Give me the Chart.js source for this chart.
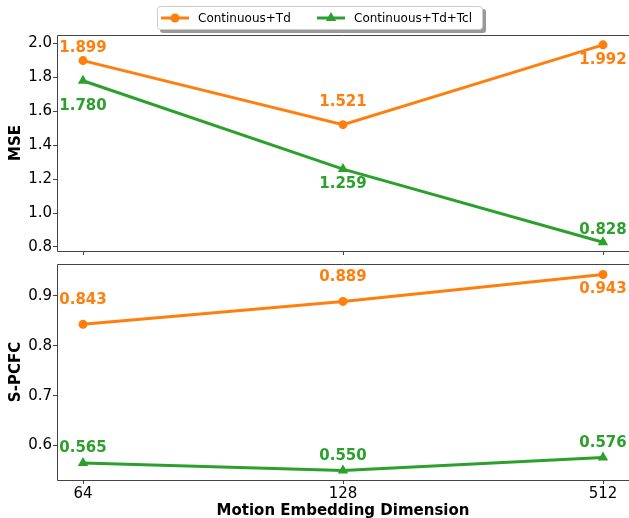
<!DOCTYPE html>
<html>
<head>
<meta charset="utf-8">
<script src="https://cdn.jsdelivr.net/npm/chart.js@4.4.0/dist/chart.umd.min.js"></script>
<style>
  html, body { margin: 0; padding: 0; background: #fff; overflow: hidden; }
  #wrap { position: relative; width: 629px; height: 518px; overflow: hidden; }
  #wrap canvas { position: absolute; left: 0; }
</style>
</head>
<body>
<div id="wrap">
  <canvas id="mseChart" width="629" height="258" style="top:0"></canvas>
  <canvas id="pcfcChart" width="629" height="262" style="top:258px"></canvas>
</div>
<script>
const dims = ['64', '128', '512'];
const seriesNames = ['Continuous+Td', 'Continuous+Td+Tcl'];
const mseTd = [1.899, 1.521, 1.992];
const mseTdTcl = [1.780, 1.259, 0.828];
const pcfcTd = [0.843, 0.889, 0.943];
const pcfcTdTcl = [0.565, 0.550, 0.576];

const ORANGE = '#ff7f0e';
const GREEN = '#2ca02c';
const SPINE = '#444';
const FONT = "'DejaVu Sans', sans-serif";

const pts = arr => arr.map((v, i) => ({ x: i, y: v }));

function makeSets(a, b) {
  return [
    { label: seriesNames[0], data: pts(a), borderColor: ORANGE, backgroundColor: ORANGE,
      borderWidth: 3, pointStyle: 'circle', pointRadius: 4.5, pointBorderWidth: 0, tension: 0, clip: false },
    { label: seriesNames[1], data: pts(b), borderColor: GREEN, backgroundColor: GREEN,
      borderWidth: 3, pointStyle: 'triangle', pointRadius: 6, pointBorderWidth: 0, tension: 0, clip: false }
  ];
}

// value labels next to every point
const valueLabels = {
  id: 'valueLabels',
  afterDatasetsDraw(chart, args, opts) {
    const ctx = chart.ctx;
    ctx.save();
    ctx.font = 'bold 15px ' + FONT;
    ctx.textAlign = 'center';
    ctx.textBaseline = 'middle';
    chart.data.datasets.forEach((ds, di) => {
      const meta = chart.getDatasetMeta(di);
      ctx.fillStyle = ds.borderColor;
      meta.data.forEach((p, i) => {
        ctx.fillText(ds.data[i].y.toFixed(3), p.x, p.y + opts.offsets[di][i]);
      });
    });
    ctx.restore();
  }
};

// left / top / bottom spines (right one falls off the picture)
const frame = {
  id: 'frame',
  afterDraw(chart) {
    const { ctx, chartArea: a, width } = chart;
    const l = Math.round(a.left) + 0.5, t = Math.round(a.top) + 0.5, b = Math.round(a.bottom) + 0.5;
    ctx.save();
    ctx.strokeStyle = SPINE;
    ctx.lineWidth = 1;
    ctx.beginPath();
    ctx.moveTo(width, t);
    ctx.lineTo(l, t);
    ctx.lineTo(l, b);
    ctx.lineTo(width, b);
    ctx.stroke();
    ctx.restore();
  }
};

// matplotlib style legend above the top panel
const topLegend = {
  id: 'topLegend',
  afterDraw(chart) {
    const ctx = chart.ctx;
    const x = 157, y = 6, w = 326, h = 24;
    ctx.save();
    ctx.fillStyle = '#999';
    ctx.beginPath();
    ctx.roundRect(x + 3, y + 3, w, h, 3);
    ctx.fill();
    ctx.fillStyle = '#fff';
    ctx.strokeStyle = '#ccc';
    ctx.lineWidth = 1;
    ctx.beginPath();
    ctx.roundRect(x + 0.5, y + 0.5, w - 1, h - 1, 3);
    ctx.fill();
    ctx.stroke();
    const starts = [161, 317];
    ctx.font = '12px ' + FONT;
    ctx.textBaseline = 'middle';
    chart.data.datasets.forEach((ds, i) => {
      const lx = starts[i], ly = y + 12;
      ctx.strokeStyle = ds.borderColor;
      ctx.lineWidth = 3;
      ctx.beginPath();
      ctx.moveTo(lx, ly);
      ctx.lineTo(lx + 28, ly);
      ctx.stroke();
      ctx.fillStyle = ds.borderColor;
      Chart.helpers.drawPoint(ctx, { pointStyle: ds.pointStyle, radius: ds.pointRadius, borderWidth: 0 }, lx + 14, ly);
      ctx.fillStyle = '#000';
      ctx.fillText(ds.label, lx + 37, ly + 1);
    });
    ctx.restore();
  }
};

function yAxis(min, max, step, title) {
  return {
    type: 'linear', min: min, max: max,
    afterFit: s => { s.width = 57; s.paddingTop = 0; s.paddingBottom = 0; },
    ticks: { stepSize: step, includeBounds: false, padding: 1, color: '#000',
      font: { family: FONT, size: 15 }, callback: v => v.toFixed(1) },
    grid: { drawOnChartArea: false, tickLength: 4, color: SPINE },
    border: { display: false },
    title: { display: true, text: title, color: '#000', padding: { top: 9, bottom: 0 },
      font: { family: FONT, size: 15, weight: 'bold', lineHeight: 1 } }
  };
}

function xAxis(showLabels) {
  return {
    type: 'linear', min: -0.1, max: 2.1,
    afterFit: s => { s.height = showLabels ? 40 : 7; s.paddingLeft = 0; s.paddingRight = 0; },
    ticks: { display: showLabels, stepSize: 1, includeBounds: false, padding: 1, color: '#000',
      font: { family: FONT, size: 15 }, callback: v => dims[v] },
    grid: { drawOnChartArea: false, tickLength: 4, color: SPINE },
    border: { display: false },
    title: { display: showLabels, text: 'Motion Embedding Dimension', color: '#000',
      padding: { top: 0, bottom: 1 },
      font: { family: FONT, size: 15, weight: 'bold', lineHeight: 1 } }
  };
}

const common = {
  responsive: false,
  animation: false,
  events: [],
  plugins: { legend: { display: false }, tooltip: { enabled: false } }
};

new Chart(document.getElementById('mseChart'), {
  type: 'line',
  data: { datasets: makeSets(mseTd, mseTdTcl) },
  options: Object.assign({}, common, {
    layout: { autoPadding: false, padding: { top: 35, right: 0, bottom: 0, left: 0 } },
    scales: { x: xAxis(false), y: yAxis(0.776, 2.050, 0.2, 'MSE') },
    plugins: Object.assign({}, common.plugins, {
      valueLabels: { offsets: [[-12, -23, 15], [25, 15, -12]] }
    })
  }),
  plugins: [valueLabels, frame, topLegend]
});

new Chart(document.getElementById('pcfcChart'), {
  type: 'line',
  data: { datasets: makeSets(pcfcTd, pcfcTdTcl) },
  options: Object.assign({}, common, {
    layout: { autoPadding: false, padding: { top: 6, right: 0, bottom: 0, left: 0 } },
    scales: { x: xAxis(true), y: yAxis(0.531, 0.964, 0.1, 'S-PCFC') },
    plugins: Object.assign({}, common.plugins, {
      valueLabels: { offsets: [[-24, -24, 15], [-15, -14, -14]] }
    })
  }),
  plugins: [valueLabels, frame]
});
</script>
</body>
</html>
